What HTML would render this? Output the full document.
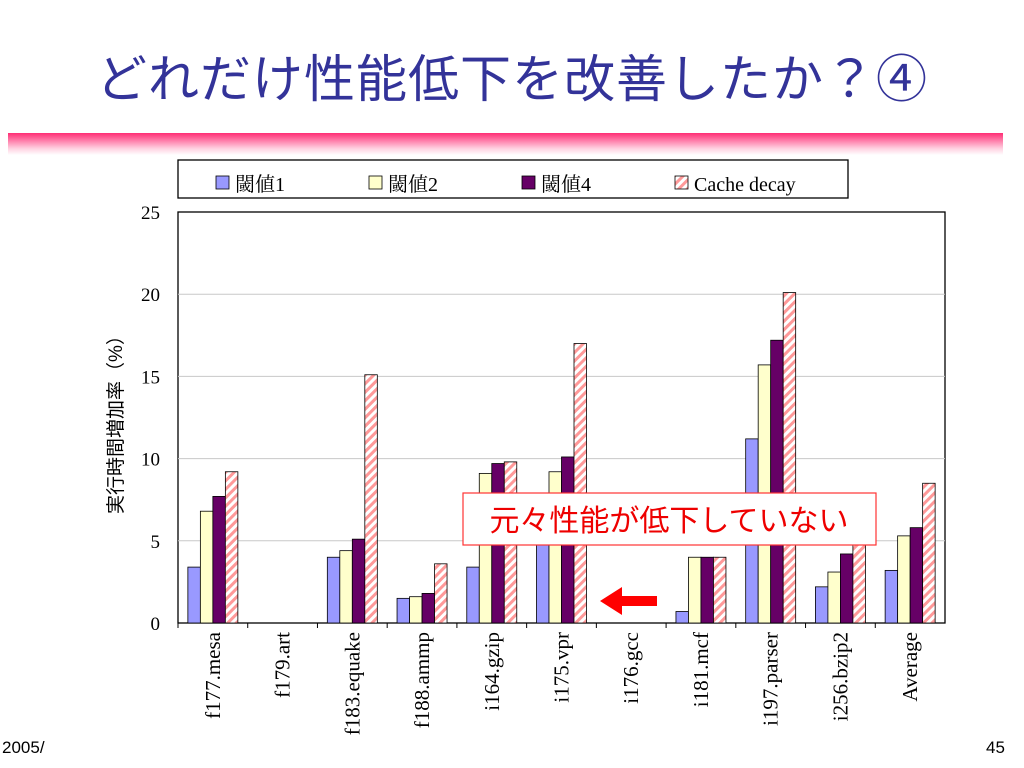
<!DOCTYPE html>
<html><head><meta charset="utf-8"><style>
body{margin:0;width:1024px;height:768px;background:#fff;overflow:hidden;position:relative;font-family:"Liberation Sans","Noto Sans CJK JP",sans-serif}
.title{position:absolute;left:0;top:38px;width:1024px;text-align:center;color:#333399;font-size:51px;letter-spacing:1px}
.band{position:absolute;left:8px;top:133px;width:995px;height:22px;background:linear-gradient(#ff2d75,#ffd0e0 70%,#fff)}
.foot{position:absolute;top:738px;font-size:17px;color:#000}
</style></head><body>
<div class="title">どれだけ性能低下を改善したか？④</div>
<div class="band"></div>
<div class="foot" style="left:2px">2005/</div>
<div class="foot" style="left:986px">45</div>
<svg id="chart" width="1024" height="768" style="position:absolute;left:0;top:0">
<defs><pattern id="hatch" width="6" height="6" patternUnits="userSpaceOnUse" patternTransform="rotate(45)"><rect width="6" height="6" fill="#fff"/><rect width="3" height="6" fill="#ff9999"/></pattern></defs>
</svg>
<script>
const categories=["f177.mesa","f179.art","f183.equake","f188.ammp","i164.gzip","i175.vpr","i176.gcc","i181.mcf","i197.parser","i256.bzip2","Average"];
const seriesNames=["閾値1","閾値2","閾値4","Cache decay"];
const s1=[3.4,0,4.0,1.5,3.4,4.9,0,0.7,11.2,2.2,3.2];
const s2=[6.8,0,4.4,1.6,9.1,9.2,0,4.0,15.7,3.1,5.3];
const s4=[7.7,0,5.1,1.8,9.7,10.1,0,4.0,17.2,4.2,5.8];
const sd=[9.2,0,15.1,3.6,9.8,17.0,0,4.0,20.1,4.8,8.5];
const yTicks=[0,5,10,15,20,25];
const svg=document.getElementById('chart');const NS="http://www.w3.org/2000/svg";
const X0=178,X1=945,Y0=623,Y1=212,YMAX=25;
const y=v=>Y0-(v/YMAX)*(Y0-Y1);
const gw=(X1-X0)/categories.length;
function mk(t,a,p){const e=document.createElementNS(NS,t);for(const k in a)e.setAttribute(k,a[k]);(p||svg).appendChild(e);return e;}
const bg=mk('rect',{x:X0,y:Y1,width:X1-X0,height:Y0-Y1,fill:'#fff',stroke:'#000','stroke-width':1.3});


yTicks.forEach(t=>{
 if(t>0&&t<YMAX){const g=mk('line',{x1:X0,x2:X1,y1:y(t),y2:y(t),stroke:'#c8c8c8','stroke-width':1});
 
 }
 const tl=mk('text',{x:160,y:y(t)+7,'text-anchor':'end','font-size':19,'font-family':'Liberation Serif,serif'});tl.textContent=t;
 
 
});
const fills=['#9999ff','#ffffcc','#660066','url(#hatch)'];
const series=[s1,s2,s4,sd];
const bw=12.5;
categories.forEach((c,i)=>{
 const gx=X0+i*gw+(gw-4*bw)/2;
 series.forEach((s,k)=>{
  const v=s[i];
  const r=mk('rect',{x:gx+k*bw,y:y(v),width:bw,height:Y0-y(v),fill:fills[k],stroke:'#000','stroke-width':0.8});
  
  
 });
 const tk=mk('line',{x1:X0+i*gw,x2:X0+i*gw,y1:Y0,y2:Y0+5,stroke:'#000'});
 
 
 const cx=X0+(i+0.5)*gw+7;
 const lt=mk('text',{x:cx,y:632,transform:`rotate(-90 ${cx} 632)`,'text-anchor':'end','font-size':21,'font-family':'Liberation Serif,serif'});
 lt.textContent=c;
 
 
});
const yt=mk('text',{x:122,y:420,transform:'rotate(-90 122 420)','text-anchor':'middle','font-size':19,'font-family':'Liberation Sans,Noto Sans CJK JP,sans-serif'});
yt.textContent='実行時間増加率（%）';


// legend
const lg=mk('rect',{x:178,y:160,width:670,height:38,fill:'#fff',stroke:'#000','stroke-width':1.3});


const lx=[216,369,522,675];
seriesNames.forEach((n,k)=>{
 const sw=mk('rect',{x:lx[k],y:176,width:13,height:13,fill:fills[k],stroke:'#000','stroke-width':0.8});
 
 
 const t=mk('text',{x:lx[k]+19,y:191,'font-size':20,'font-family':'Liberation Serif,Noto Serif CJK SC,serif'});t.textContent=n;
 
 
});
// annotation
const ab=mk('rect',{x:463,y:493,width:413,height:52,fill:'#fff',stroke:'#ff3333','stroke-width':1.2});


const at=mk('text',{x:669,y:531,'text-anchor':'middle','font-size':30,fill:'#ee0000','font-family':'Liberation Sans,Noto Sans CJK JP,sans-serif'});
at.textContent='元々性能が低下していない';


const ar=mk('polygon',{points:'600,601 622,587 622,596 657,596 657,606 622,606 622,615',fill:'#ff0000'});


</script>
</body></html>
